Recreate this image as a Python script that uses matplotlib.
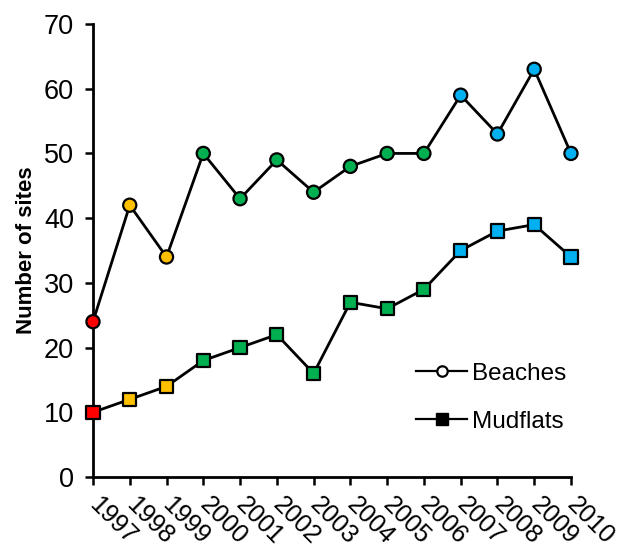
import matplotlib
matplotlib.use("Agg")
import matplotlib.pyplot as plt
from matplotlib.lines import Line2D

years = [1997, 1998, 1999, 2000, 2001, 2002, 2003, 2004, 2005, 2006, 2007, 2008, 2009, 2010]
beaches = [24, 42, 34, 50, 43, 49, 44, 48, 50, 50, 59, 53, 63, 50]
mudflats = [10, 12, 14, 18, 20, 22, 16, 27, 26, 29, 35, 38, 39, 34]
point_colors = ['#FF0000', '#FFC000', '#FFC000', '#00B050', '#00B050', '#00B050', '#00B050',
                '#00B050', '#00B050', '#00B050', '#00B0F0', '#00B0F0', '#00B0F0', '#00B0F0']

plt.rcParams['font.family'] = ['Liberation Sans', 'DejaVu Sans']

fig = plt.figure(figsize=(6.17, 5.5), dpi=100)
ax = fig.add_axes([0.1507, 0.1327, 0.7747, 0.8237])

ax.plot(years, beaches, color='black', lw=2.0, zorder=2, clip_on=False)
ax.plot(years, mudflats, color='black', lw=2.0, zorder=2, clip_on=False)
ax.scatter(years, beaches, s=90, marker='o', c=point_colors, edgecolors='black',
           linewidths=1.6, zorder=3, clip_on=False)
ax.scatter(years, mudflats, s=90, marker='s', c=point_colors, edgecolors='black',
           linewidths=1.6, zorder=3, clip_on=False)

ax.set_xlim(1997, 2010)
ax.set_ylim(0, 70)
ax.set_yticks(range(0, 71, 10))
ax.set_xticks(years)
ax.set_xticklabels([str(y) for y in years], rotation=-45, rotation_mode='anchor',
                   ha='left', va='center')
ax.tick_params(axis='both', width=1.8, length=5.5, direction='out', color='black')
ax.tick_params(axis='x', labelsize=18, pad=12)
ax.tick_params(axis='y', labelsize=19.5, pad=8)
for s in ['top', 'right']:
    ax.spines[s].set_visible(False)
for s in ['left', 'bottom']:
    ax.spines[s].set_linewidth(2.0)

ax.set_ylabel('Number of sites', fontsize=16, fontweight='bold', labelpad=5)

handles = [Line2D([], [], color='black', lw=1.6, marker='o', markersize=7.5,
                  markerfacecolor='white', markeredgecolor='black', markeredgewidth=1.6),
           Line2D([], [], color='black', lw=1.6, marker='s', markersize=8,
                  markerfacecolor='black', markeredgecolor='black')]
ax.legend(handles, ['Beaches', 'Mudflats'], frameon=False, fontsize=17.5,
          loc='center left', bbox_to_anchor=(0.63, 0.175), handlelength=2.1,
          handletextpad=0.2, labelspacing=1.05)

fig.savefig('out.png', dpi=100)
